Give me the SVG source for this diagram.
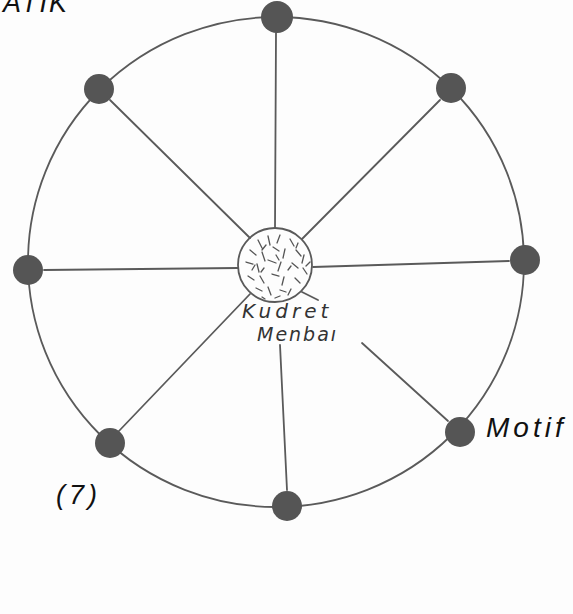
<svg xmlns="http://www.w3.org/2000/svg" width="573" height="614" viewBox="0 0 573 614">
<style>
.ln{stroke:#5a5a5a;stroke-width:1.8;fill:none;stroke-linecap:round}
.dot{fill:#555}
.h{stroke:#555;stroke-width:1.3;stroke-linecap:round}
.lbl{font-family:"Liberation Sans",Arial,sans-serif;font-style:italic;fill:#111}
.hand{font-family:"DejaVu Sans",sans-serif;font-style:italic;fill:#333}
</style>
<rect width="573" height="614" fill="#fdfdfd"/>
<g id="outer-circle"><ellipse cx="276" cy="262" rx="248" ry="245" class="ln"/></g>
<g id="connectors">
<line class="ln" x1="276" y1="33" x2="275" y2="228"/>
<line class="ln" x1="110" y1="100" x2="250" y2="238"/>
<line class="ln" x1="440" y1="100" x2="302" y2="239"/>
<line class="ln" x1="44" y1="270" x2="238" y2="268"/>
<line class="ln" x1="509" y1="261" x2="313" y2="267"/>
<line class="ln" x1="118" y1="432" x2="250" y2="294"/>
<line class="ln" x1="287" y1="490" x2="280" y2="345"/>
<line class="ln" x1="302" y1="292" x2="318" y2="300"/>
<line class="ln" x1="362" y1="343" x2="448" y2="421"/>
</g>
<g id="center">
<circle cx="275" cy="265" r="37" fill="#fff" class="ln"/>
<g class="h">
<path d="M258 240l4 8M268 236l2 9M280 235l-3 8M290 239l4 7M250 250l6 5M262 252l3 9M273 247l6 4M285 249l-2 9M296 250l5 6M304 255l-2 8M246 262l7 2M257 264l2 8M268 260l8 3M281 262l-3 9M292 263l6 5M303 268l4 6M248 276l6 4M260 276l4 7M272 274l7 2M284 277l-2 8M295 278l5 5M256 288l6 3M268 287l3 8M280 290l6 2M291 289l-3 6M266 245l-4 5M298 243l-2 5M252 270l3-5M310 262l-4 4M275 298l5-2M262 297l3 2M276 255l3 5M288 270l3-4M264 268l-3 4"/>
</g>
<text class="hand" x="242" y="318" font-size="20" letter-spacing="4">Kudret</text>
<text class="hand" x="257" y="341" font-size="19" letter-spacing="2">Menbaı</text>
</g>
<g id="n-top"><circle class="dot" cx="277" cy="17" r="16"/></g>
<g id="n-tl"><circle class="dot" cx="99" cy="89" r="15"/></g>
<g id="n-tr"><circle class="dot" cx="451" cy="88" r="15"/></g>
<g id="n-left"><circle class="dot" cx="28" cy="270" r="15"/></g>
<g id="n-right"><circle class="dot" cx="525" cy="260" r="15"/></g>
<g id="n-br"><circle class="dot" cx="460" cy="432" r="15"/></g>
<g id="n-bottom"><circle class="dot" cx="287" cy="506" r="15"/></g>
<g id="n-bl"><circle class="dot" cx="110" cy="443" r="15"/></g>
<text class="lbl" x="486" y="437" font-size="28" letter-spacing="4">Motif</text>
<text class="lbl" x="56" y="504" font-size="27" letter-spacing="4">(7)</text>
<text class="lbl" x="3" y="12" font-size="27" letter-spacing="2">ATIK</text>
</svg>
